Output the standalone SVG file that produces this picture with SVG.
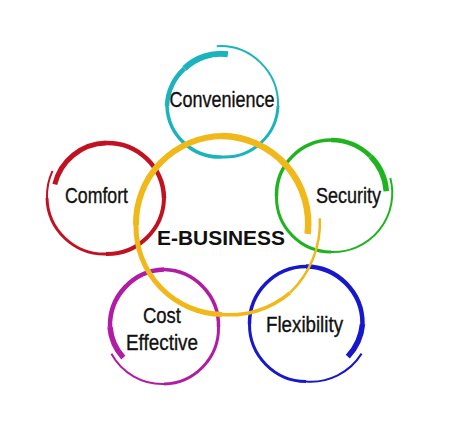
<svg xmlns="http://www.w3.org/2000/svg" width="450" height="429" viewBox="0 0 450 429">
<style>
.r{fill:none;stroke-linecap:butt;}
.teal{stroke:#1bb3bc;}
.red{stroke:#c11222;}
.green{stroke:#1fb41f;}
.mag{stroke:#b01ca3;}
.blue{stroke:#1717cc;}
.yel{stroke:#f1b81a;}
.lbl{font-family:"Liberation Sans",Arial,sans-serif;font-size:21.5px;fill:#111;stroke:#111;stroke-width:0.35px;}
.main{font-family:"Liberation Sans",Arial,sans-serif;font-size:21px;font-weight:bold;fill:#111;}
</style>
<rect width="450" height="429" fill="#fff"/>
<g id="node-convenience">
<path class="r teal" stroke-width="2" d="M216.8,46.2 A58,58 0 0 1 278,106"/>
<path class="r teal" stroke-width="3" d="M278,106 A53.5,53.5 0 0 1 222,157"/>
<path class="r teal" stroke-width="3.5" d="M222,157 A53,53 0 0 1 167,106"/>
<path class="r teal" stroke-width="4.5" d="M167,106 A54,54 0 0 1 184.5,68.5"/>
<path class="r teal" stroke-width="6" d="M184.5,68.5 A52.5,52.5 0 0 1 227.9,54.3"/>
<text class="lbl" x="169.5" y="107" textLength="105" lengthAdjust="spacingAndGlyphs">Convenience</text>
</g>
<g id="node-comfort">
<path class="r red" stroke-width="5" d="M54.8,184.3 A54,54 0 0 1 106,143"/>
<path class="r red" stroke-width="4.5" d="M106,143 A56.5,56.5 0 0 1 164,198"/>
<path class="r red" stroke-width="4" d="M164,198 A57,57 0 0 1 106,254"/>
<path class="r red" stroke-width="3" d="M106,254 A57.5,57.5 0 0 1 47,198"/>
<path class="r red" stroke-width="2" d="M47,198 A59.5,59.5 0 0 1 52.5,170.8"/>
<text class="lbl" x="65" y="203" textLength="63" lengthAdjust="spacingAndGlyphs">Comfort</text>
</g>
<g id="node-security">
<path class="r green" stroke-width="2" d="M390.3,177.9 A59,59 0 0 1 331,252"/>
<path class="r green" stroke-width="3" d="M331,252 A55,55 0 0 1 276.5,196"/>
<path class="r green" stroke-width="3.5" d="M276.5,196 A55,55 0 0 1 331,140"/>
<path class="r green" stroke-width="4.5" d="M331,140 A56,56 0 0 1 370.6,156.4"/>
<path class="r green" stroke-width="5.5" d="M370.6,156.4 A55.5,55.5 0 0 1 386.3,191.2"/>
<text class="lbl" x="316" y="203" textLength="65" lengthAdjust="spacingAndGlyphs">Security</text>
</g>
<g id="node-cost-effective">
<path class="r mag" stroke-width="2" d="M111.4,353.8 A58,58 0 0 0 164,384"/>
<path class="r mag" stroke-width="3" d="M164,384 A56,56 0 0 0 218.5,327"/>
<path class="r mag" stroke-width="3.5" d="M218.5,327 A56,56 0 0 0 164,269.5"/>
<path class="r mag" stroke-width="4.5" d="M164,269.5 A56,56 0 0 0 110,327"/>
<path class="r mag" stroke-width="5.5" d="M110,327 A52.5,52.5 0 0 0 123.3,357.7"/>
<text class="lbl" x="143" y="323" textLength="38" lengthAdjust="spacingAndGlyphs">Cost</text>
<text class="lbl" x="126" y="350" textLength="72" lengthAdjust="spacingAndGlyphs">Effective</text>
</g>
<g id="node-flexibility">
<path class="r blue" stroke-width="2" d="M361.6,353.6 A60,60 0 0 1 306,381.5"/>
<path class="r blue" stroke-width="3" d="M306,381.5 A57,57 0 0 1 249.5,324"/>
<path class="r blue" stroke-width="3.5" d="M249.5,324 A57,57 0 0 1 306,266.5"/>
<path class="r blue" stroke-width="4.5" d="M306,266.5 A57,57 0 0 1 362.5,324"/>
<path class="r blue" stroke-width="5.5" d="M362.5,324 A55,55 0 0 1 347.8,356.6"/>
<text class="lbl" x="266" y="332" textLength="77" lengthAdjust="spacingAndGlyphs">Flexibility</text>
</g>
<g id="node-ebusiness">
<path class="r yel" stroke-width="6.5" d="M307.6,234 A87.5,87.5 0 0 0 222,136"/>
<path class="r yel" stroke-width="6" d="M222,136 A87.5,87.5 0 0 0 136,225"/>
<path class="r yel" stroke-width="5" d="M136,225 A88,88 0 0 0 222,314.5"/>
<path class="r yel" stroke-width="3.5" d="M222,314.5 A93,93 0 0 0 289.9,292.9"/>
<path class="r yel" stroke-width="2.5" d="M289.9,292.9 A97,97 0 0 0 319.8,218.2"/>
<text class="main" x="157" y="245" textLength="128" lengthAdjust="spacingAndGlyphs">E-BUSINESS</text>
</g>
<g id="connectors"></g>
</svg>
